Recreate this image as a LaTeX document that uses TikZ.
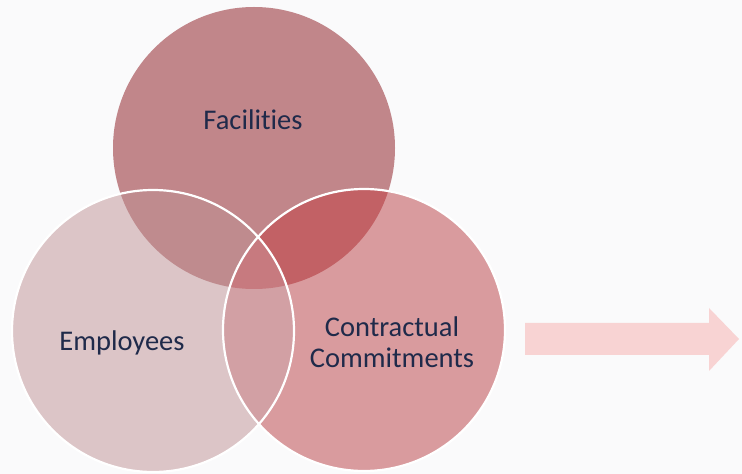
\documentclass[tikz,border=0pt]{standalone}
\usepackage{fontspec}
\setmainfont[Ligatures={NoCommon,NoContextual}]{Carlito}
\definecolor{bgc}{HTML}{FAFAFB}
\definecolor{fonly}{HTML}{C1868A}
\definecolor{eonly}{HTML}{DCC5C7}
\definecolor{conly}{HTML}{D99B9E}
\definecolor{fe}{HTML}{BF8B8E}
\definecolor{fc}{HTML}{C26165}
\definecolor{ec}{HTML}{D2A0A4}
\definecolor{fec}{HTML}{C77A7F}
\definecolor{txt}{HTML}{1F2A4A}
\definecolor{arrowc}{HTML}{F8D3D3}
\tikzset{
  lbl/.style={text=txt, font=\fontsize{28.5}{31.5}\selectfont, align=center, inner sep=0pt},
  rim/.style={draw=white, line width=2.2pt}
}
\begin{document}
\begin{tikzpicture}[x=1pt,y=1pt]
\fill[bgc] (0,0) rectangle (742,474);
\useasboundingbox (0,0) rectangle (742,474);
\coordinate (F) at (254,326);
\coordinate (E) at (153,143);
\coordinate (C) at (364,144);
\def\rr{141}
\fill[fonly] (F) circle (\rr);
\fill[eonly] (E) circle (\rr);
\fill[conly] (C) circle (\rr);
\begin{scope}
  \clip (F) circle (\rr);
  \fill[fe] (E) circle (\rr);
  \fill[fc] (C) circle (\rr);
\end{scope}
\begin{scope}
  \clip (E) circle (\rr);
  \fill[ec] (C) circle (\rr);
  \clip (C) circle (\rr);
  \fill[fec] (F) circle (\rr);
\end{scope}
\draw[rim] (E) circle (\rr);
\draw[rim] (C) circle (\rr);
\node[lbl] (facilities) at (253,354) {Facilities};
\node[lbl] (employees) at (122,131) {Employees};
\node[lbl] (contract) at (392,132) {Contractual\\Commitments};
\coordinate (a1) at (525,151);
\coordinate (a2) at (709,151);
\coordinate (a3) at (709,166);
\coordinate (a4) at (739,135);
\coordinate (a5) at (709,103);
\coordinate (a6) at (709,119);
\coordinate (a7) at (525,119);
\fill[arrowc] (a1) -- (a2) -- (a3) -- (a4) -- (a5) -- (a6) -- (a7) -- cycle;
\end{tikzpicture}
\end{document}
